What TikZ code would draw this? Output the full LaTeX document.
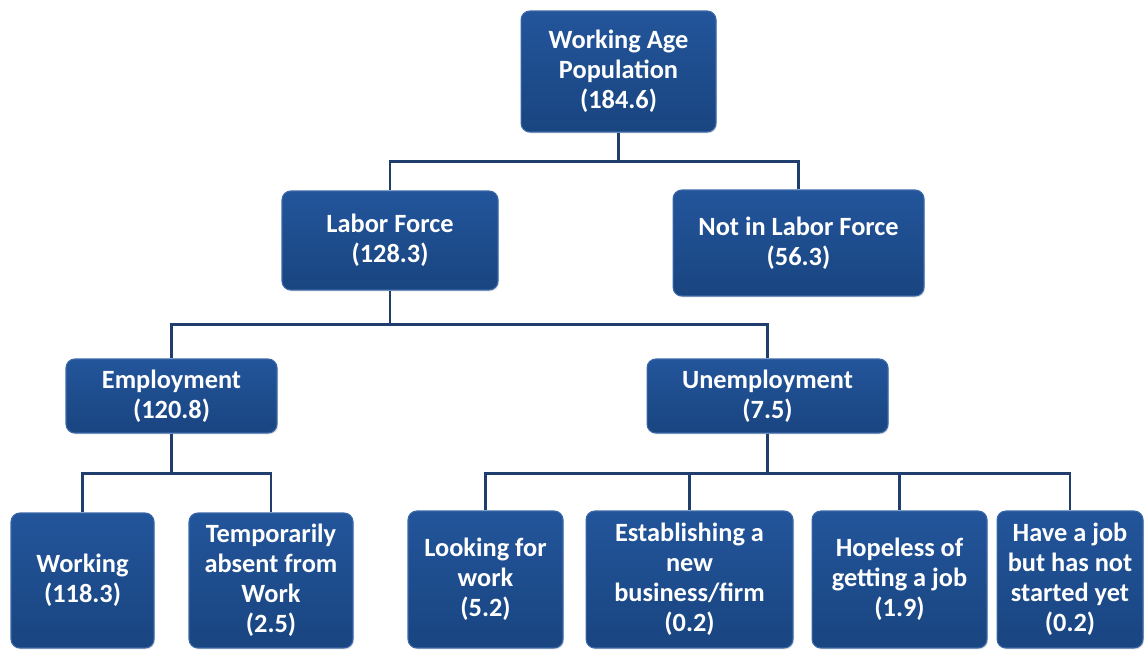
\documentclass[tikz,border=0pt]{standalone}
\usepackage{fontspec}
\setmainfont{Carlito}
\usepackage{xcolor}
\definecolor{boxTop}{HTML}{23559B}
\definecolor{boxBottom}{HTML}{194580}
\definecolor{boxEdge}{HTML}{3A68A8}
\definecolor{linkDark}{HTML}{1F3E6D}
\usetikzlibrary{positioning,calc,shadows}
\tikzset{%
  orgBox/.style={%
    rectangle,
    rounded corners=5pt,
    draw=boxEdge,
    line width=0.6pt,
    top color=boxTop,
    bottom color=boxBottom,
    drop shadow={opacity=0.25,shadow xshift=0.6pt,shadow yshift=-0.8pt},
    text=white,
    font=\fontsize{15}{17}\selectfont\bfseries,
    align=center,
    inner sep=0pt
  },
  linkLine/.style={%
    line width=1.5pt,
    color=linkDark
  }
}

\begin{document}
\begin{tikzpicture}[x=0.02cm,y=-0.02cm]
            \useasboundingbox (0,0) rectangle (1145,649);

            % top level
            \node[orgBox, minimum width=3.9cm, minimum height=2.42cm] (wap) at (618.5,71.5) {Working Age\\Population\\(184.6)};

            % second level
            \node[orgBox, minimum width=4.32cm, minimum height=1.98cm] (labor) at (390,240.5) {Labor Force\\(128.3)};
            \node[orgBox, minimum width=5.02cm, minimum height=2.12cm] (notLabor) at (798.5,243) {Not in Labor Force\\(56.3)};

            % third level
            \node[orgBox, minimum width=4.22cm, minimum height=1.48cm] (employ) at (171.5,396) {Employment\\(120.8)};
            \node[orgBox, minimum width=4.82cm, minimum height=1.48cm] (unemploy) at (767.5,396) {Unemployment\\(7.5)};

            % bottom row
            \node[orgBox, minimum width=2.86cm, minimum height=2.7cm] (working) at (82.5,580.5) {Working\\(118.3)};
            \node[orgBox, minimum width=3.28cm, minimum height=2.7cm] (absent) at (271,580.5) {Temporarily\\absent from\\Work\\(2.5)};
            \node[orgBox, minimum width=3.10cm, minimum height=2.74cm] (looking) at (485.5,579.5) {Looking for\\work\\(5.2)};
            \node[orgBox, minimum width=4.14cm, minimum height=2.74cm] (business) at (689.5,579.5) {Establishing a\\new\\business/firm\\(0.2)};
            \node[orgBox, minimum width=3.50cm, minimum height=2.74cm] (hopeless) at (899.5,579.5) {Hopeless of\\getting a job\\(1.9)};
            \node[orgBox, minimum width=2.92cm, minimum height=2.74cm] (notStarted) at (1070,579.5) {Have a job\\but has not\\started yet\\(0.2)};

            \draw[linkLine] (wap.south) -- ++(0,29) -| (labor.north);
            \draw[linkLine] (wap.south) -- ++(0,29) -| (notLabor.north);

            \draw[linkLine] (labor.south) -- ++(0,34) -| (employ.north);
            \draw[linkLine] (labor.south) -- ++(0,34) -| (unemploy.north);

            \draw[linkLine] (employ.south) -- ++(0,40) -| (working.north);
            \draw[linkLine] (employ.south) -- ++(0,40) -| (absent.north);

            \draw[linkLine] (unemploy.south) -- ++(0,40) -| (looking.north);
            \draw[linkLine] (unemploy.south) -- ++(0,40) -| (business.north);
            \draw[linkLine] (unemploy.south) -- ++(0,40) -| (hopeless.north);
            \draw[linkLine] (unemploy.south) -- ++(0,40) -| (notStarted.north);

        \end{tikzpicture}
\end{document}
